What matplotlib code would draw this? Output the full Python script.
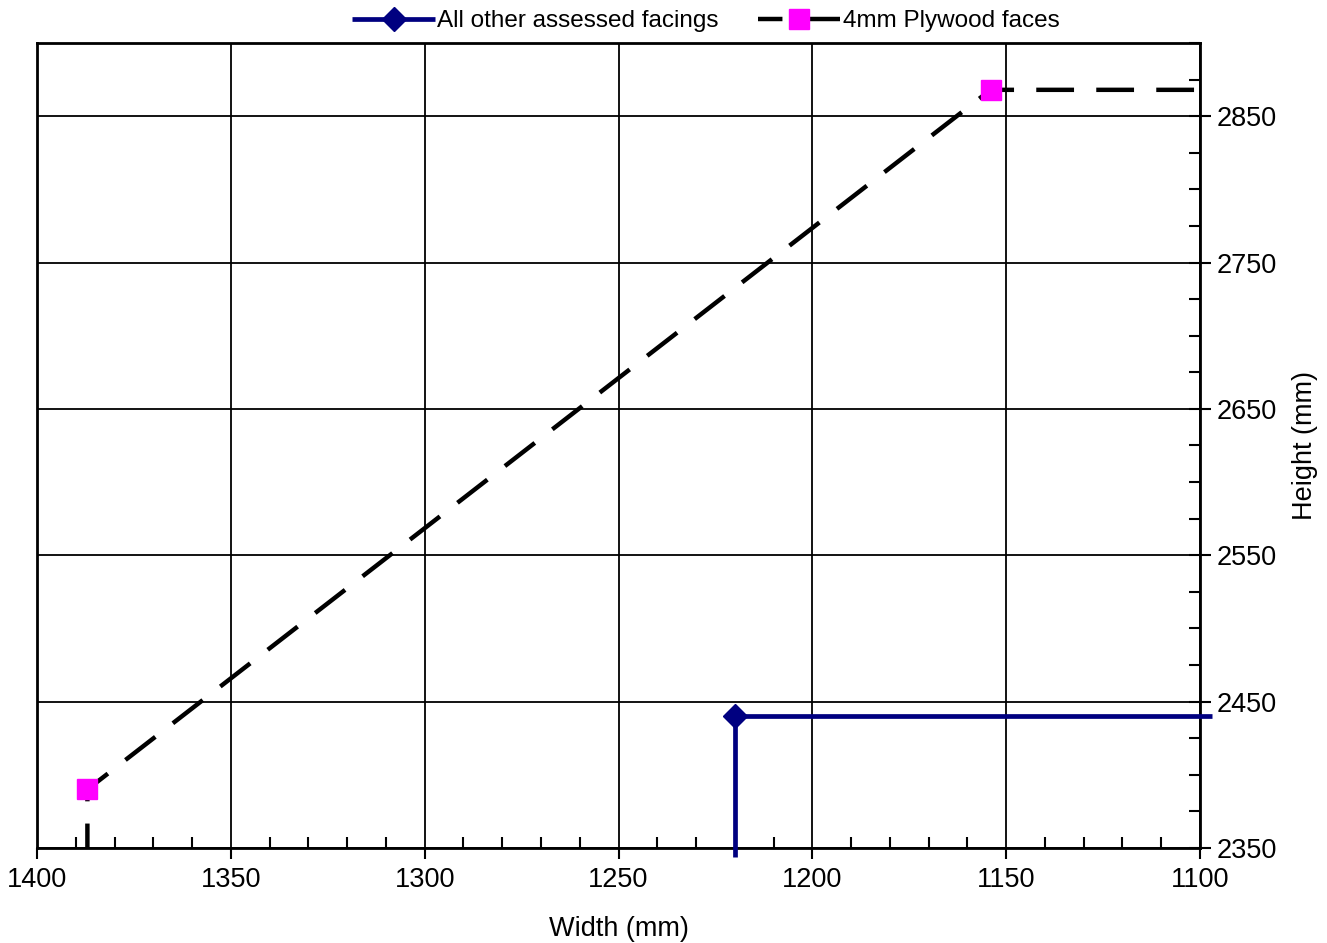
import matplotlib
matplotlib.use("Agg")
import matplotlib.pyplot as plt
from matplotlib.ticker import MultipleLocator

plt.rcParams["font.family"] = ["Liberation Sans", "DejaVu Sans"]

# Data (width, height in mm)
other_width = [1220, 1220, 1097]
other_height = [2344, 2440, 2440]
ply_width = [1387, 1387, 1154, 1097]
ply_height = [2350, 2390, 2868, 2868]

fig = plt.figure(figsize=(13.27, 9.43), dpi=100)
ax = fig.add_axes([37 / 1327, 1 - 848 / 943, 1163 / 1327, 805 / 943])

ax.plot(
    other_width, other_height,
    color="#000080", lw=3.4, marker="D", markersize=12,
    markevery=[1], label="All other assessed facings", zorder=3,
    clip_on=False, solid_capstyle="butt",
)
ax.plot(
    ply_width, ply_height,
    color="black", lw=3.2, linestyle=(3, (8.5, 5)),
    marker="s", markersize=15, markerfacecolor="#FF00FF",
    markeredgecolor="#FF00FF", markevery=[1, 2],
    label="4mm Plywood faces", zorder=3, clip_on=False,
)

ax.set_xlim(1400, 1100)
ax.set_ylim(2350, 2900)

ax.xaxis.set_major_locator(MultipleLocator(50))
ax.xaxis.set_minor_locator(MultipleLocator(10))
ax.yaxis.set_minor_locator(MultipleLocator(25))
ax.set_yticks([2350, 2450, 2550, 2650, 2750, 2850])

ax.yaxis.tick_right()
ax.yaxis.set_label_position("right")
ax.tick_params(axis="x", which="major", direction="out", length=8, width=1.5,
               labelsize=19.5, pad=6)
ax.tick_params(axis="x", which="minor", direction="in", length=8, width=1.5)
ax.tick_params(axis="y", which="major", direction="inout", length=16, width=1.5,
               labelsize=19.5, pad=4)
ax.tick_params(axis="y", which="minor", direction="in", length=8, width=1.5)

ax.grid(True, which="major", color="black", lw=1.3)
for s in ax.spines.values():
    s.set_linewidth(2)

ax.set_xlabel("Width (mm)", fontsize=19.5, labelpad=16)
ax.set_ylabel("Height (mm)", fontsize=19.5, labelpad=11)

fig.legend(
    loc="center", bbox_to_anchor=(706 / 1327, 1 - 21 / 943), ncol=2,
    frameon=False, fontsize=17.5, handlelength=3.4, handletextpad=0.1,
    columnspacing=1.6, numpoints=1,
)

fig.savefig("out.png", dpi=100)
